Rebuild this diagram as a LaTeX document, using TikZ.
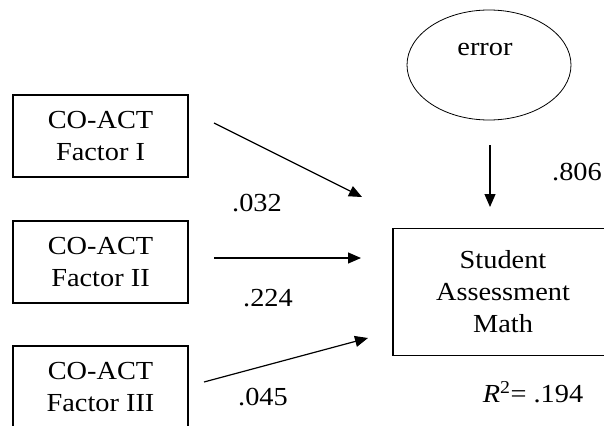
\documentclass[tikz,border=0pt]{standalone}
\usepackage{fontspec}
\setmainfont[FakeStretch=1.09]{Liberation Serif}
\usetikzlibrary{arrows.meta,shapes.geometric}
\begin{document}
\begin{tikzpicture}[x=1pt,y=-1pt,
  every node/.style={font=\fontsize{26}{32}\selectfont},
  factor/.style={draw,line width=1.2pt,minimum width=175pt,minimum height=82pt,align=center,inner sep=0pt},
  outcome/.style={draw,line width=1.2pt,minimum width=220pt,minimum height=127pt,align=center,inner sep=0pt},
  latent/.style={draw,line width=0.8pt,ellipse,minimum width=164pt,minimum height=110pt,inner sep=0pt},
  path/.style={line width=1.2pt,-{Triangle[length=13pt,width=11pt]}},
  coef/.style={inner sep=0pt}]
\useasboundingbox (0,0) rectangle (604,425);
\clip (0,0) rectangle (604,425);
\fill[white] (0,0) rectangle (604,425);

% exogenous factors
\node[factor] (f1) at (100.5,136) {CO-ACT\\Factor I};
\node[factor] (f2) at (100.5,262) {CO-ACT\\Factor II};
\node[factor] (f3) at (100.5,387) {CO-ACT\\Factor III};

% outcome and its disturbance
\node[outcome] (y) at (503,292) {Student\\Assessment\\Math};
\node[latent] (e) at (489,65) {};
\node[coef] (elabel) at (485,50) {error};

% arrow anchors
\coordinate (s1) at (214,123);
\coordinate (t1) at (362,197);
\coordinate (s2) at (214,258);
\coordinate (t2) at (361,258);
\coordinate (s3) at (204,382);
\coordinate (t3) at (368,338);
\coordinate (se) at (490,145);
\coordinate (te) at (490,207);

\draw[path] (s1) -- (t1);
\draw[path] (s2) -- (t2);
\draw[path] (s3) -- (t3);
\draw[path] (se) -- (te);

% path coefficients
\node[coef] (c1) at (257,203) {.032};
\node[coef] (c2) at (268,298) {.224};
\node[coef] (c3) at (263,397) {.045};
\node[coef] (ce) at (577,172) {.806};
\node[coef] (r2) at (533,392) {\textit{R}\textsuperscript{2}= .194};
\end{tikzpicture}
\end{document}
